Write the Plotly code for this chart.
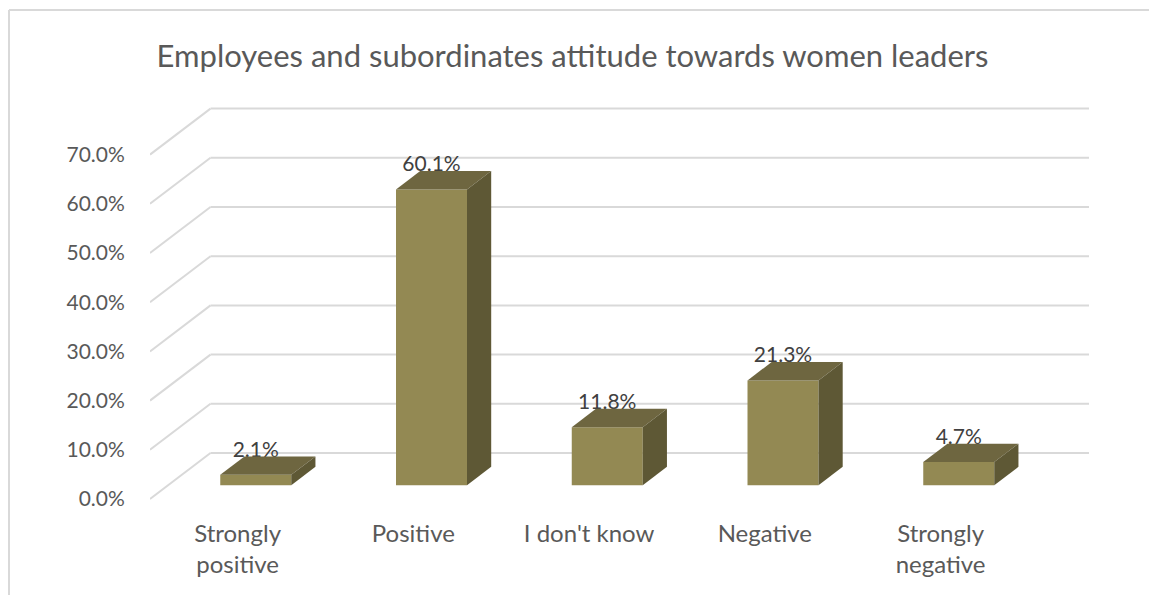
import plotly.graph_objects as go

title = "Employees and subordinates attitude towards women leaders"
categories = ["Strongly<br>positive", "Positive", "I don't know", "Negative", "Strongly<br>negative"]
values = [2.1, 60.1, 11.8, 21.3, 4.7]
y_ticks = [0, 10, 20, 30, 40, 50, 60, 70]
y_tick_labels = ["0.0%", "10.0%", "20.0%", "30.0%", "40.0%", "50.0%", "60.0%", "70.0%"]

W, H = 1149, 595
L, R, T, B = 150, 60, 100, 85
PW, PH = W - L - R, H - T - B
PX_CAT = 175.75
PX_VAL = 4.92
X0 = 237.6   # pixel of category 0 on the front plane
Y0 = 499.0   # pixel of value 0 on the front plane
x_range = [(L - X0) / PX_CAT, (W - R - X0) / PX_CAT]
y_range = [(Y0 - (H - B)) / PX_VAL, (Y0 - T) / PX_VAL]

# oblique projection: full floor depth in axis units
DX = 60.5 / PX_CAT
DY = 46.0 / PX_VAL
BAR_FRONT, BAR_BACK = 0.30, 0.70
BAR_W = 71.0 / PX_CAT

FRONT, TOP, SIDE = "#938953", "#6e6640", "#5e5835"
GRID = "#d9d9d9"
FONT = "Lato, Carlito, sans-serif"

idx = list(range(len(values)))
fig = go.Figure()

# front faces
fig.add_trace(go.Bar(
    x=[i + BAR_FRONT * DX for i in idx],
    y=values,
    base=[BAR_FRONT * DY] * len(values),
    width=BAR_W,
    marker=dict(color=FRONT, line=dict(width=0)),
    hoverinfo="skip",
    showlegend=False,
))

# data labels (beneath the top faces)
fig.add_trace(go.Scatter(
    x=[i + BAR_FRONT * DX for i in idx],
    y=[v + BAR_FRONT * DY + 2.6 for v in values],
    mode="text",
    text=[f"{v:.1f}%" for v in values],
    textposition="top center",
    textfont=dict(family=FONT, size=21, color="#404040"),
    hoverinfo="skip",
    showlegend=False,
))

d = BAR_BACK - BAR_FRONT
for i, v in zip(idx, values):
    xl = i + BAR_FRONT * DX - BAR_W / 2
    xr = xl + BAR_W
    yb = BAR_FRONT * DY
    yt = yb + v
    # top face
    fig.add_trace(go.Scatter(
        x=[xl, xr, xr + d * DX, xl + d * DX, xl],
        y=[yt, yt, yt + d * DY, yt + d * DY, yt],
        mode="lines", fill="toself", fillcolor=TOP, line=dict(width=0, color=TOP),
        hoverinfo="skip", showlegend=False,
    ))
    # side face
    fig.add_trace(go.Scatter(
        x=[xr, xr + d * DX, xr + d * DX, xr, xr],
        y=[yb, yb + d * DY, yt + d * DY, yt, yb],
        mode="lines", fill="toself", fillcolor=SIDE, line=dict(width=0, color=SIDE),
        hoverinfo="skip", showlegend=False,
    ))

shapes = []
for t in y_ticks:
    line = dict(color=GRID, width=2)
    shapes.append(dict(type="line", layer="below", xref="x", yref="y",
                       x0=x_range[0], y0=t, x1=x_range[0] + DX, y1=t + DY, line=line))
    shapes.append(dict(type="line", layer="below", xref="x", yref="y",
                       x0=x_range[0] + DX, y0=t + DY, x1=x_range[1], y1=t + DY, line=line))

# chart frame
def px(x):
    return (x - L) / PW
def py(y):
    return 1 - (y - T) / PH
frame = dict(color=GRID, width=2)
shapes.append(dict(type="line", xref="paper", yref="paper", x0=px(9), x1=px(W), y0=py(10), y1=py(10), line=frame))
shapes.append(dict(type="line", xref="paper", yref="paper", x0=px(9), x1=px(9), y0=py(10), y1=py(H), line=frame))

fig.update_layout(
    width=W, height=H,
    margin=dict(l=L, r=R, t=T, b=B, autoexpand=False),
    paper_bgcolor="white", plot_bgcolor="rgba(0,0,0,0)",
    title=dict(text=title, x=(158 + 987) / 2 / W, xanchor="center", y=1 - 56 / H, yanchor="middle",
               font=dict(family=FONT, size=31, color="#595959")),
    shapes=shapes,
    showlegend=False,
    xaxis=dict(range=x_range, tickmode="array", tickvals=idx, ticktext=categories,
               showgrid=False, zeroline=False, showline=False,
               ticks="outside", ticklen=2, tickcolor="rgba(0,0,0,0)",
               tickfont=dict(family=FONT, size=24, color="#595959")),
    yaxis=dict(range=y_range, tickmode="array", tickvals=y_ticks, ticktext=y_tick_labels,
               showgrid=False, zeroline=False, showline=False,
               ticks="outside", ticklen=20, tickcolor="rgba(0,0,0,0)",
               tickfont=dict(family=FONT, size=21, color="#595959")),
)

fig.write_html("out.html", config=dict(displayModeBar=False),
               post_script="document.body.style.margin='0';")
